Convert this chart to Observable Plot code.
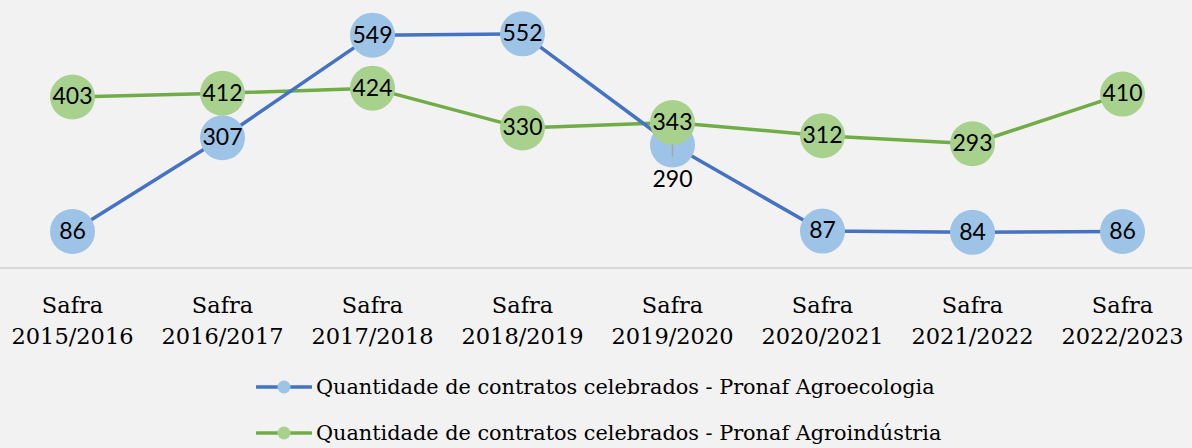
<!DOCTYPE html>
<html>
<head>
<meta charset="utf-8">
<script src="https://cdn.jsdelivr.net/npm/d3@7"></script>
<script src="https://cdn.jsdelivr.net/npm/@observablehq/plot@0.6"></script>
<style>
  html, body { margin: 0; padding: 0; background: #f2f2f2; }
  #wrap { position: relative; width: 1192px; height: 448px; overflow: hidden; background: #f2f2f2; }
  #chart { position: absolute; left: 0; top: 0; }
  .legend { position: absolute; left: 256px; font-family: "DejaVu Serif", serif; font-size: 20.8px; color: #000; display: flex; align-items: center; white-space: nowrap; }
  .legend svg { margin-right: 4px; }
</style>
</head>
<body>
<div id="wrap">
  <div id="chart"></div>
  <div class="legend" id="leg1" style="top:375px;"></div>
  <div class="legend" id="leg2" style="top:421px;"></div>
</div>
<script>
const safras = ["2015/2016","2016/2017","2017/2018","2018/2019","2019/2020","2020/2021","2021/2022","2022/2023"];
const agroecologia = [86, 307, 549, 552, 290, 87, 84, 86];
const agroindustria = [403, 412, 424, 330, 343, 312, 293, 410];
const seriesNames = [
  "Quantidade de contratos celebrados - Pronaf Agroecologia",
  "Quantidade de contratos celebrados - Pronaf Agroindústria"
];
const lineColors = ["#4472c4", "#70ad47"];
const dotColors = ["#9dc3e6", "#a9d18e"];

const eco = safras.map((s, i) => ({safra: s, value: agroecologia[i]}));
const ind = safras.map((s, i) => ({safra: s, value: agroindustria[i]}));
// label placed below the marker for the overlapping point
const ecoIn = eco.filter(d => d.safra !== "2019/2020");
const ecoOut = eco.filter(d => d.safra === "2019/2020");

const H = 360;
const plot = Plot.plot({
  width: 1192,
  height: H,
  marginTop: 13,
  marginBottom: H - 267.5,
  marginLeft: 72,
  marginRight: 70,
  style: {background: "transparent", overflow: "visible"},
  x: {type: "point", domain: safras, padding: 0},
  y: {domain: [0, 600], axis: null},
  marks: [
    Plot.ruleY([0], {stroke: "#d9d9d9", strokeWidth: 2, insetLeft: -80, insetRight: -80}),
    Plot.axisX({
      tickSize: 0, tickPadding: 22.5, fontSize: 22.5, lineHeight: 1.38,
      fontFamily: "DejaVu Serif", fill: "#000",
      tickFormat: d => "Safra\n" + d, label: null
    }),
    Plot.line(ind, {x: "safra", y: "value", stroke: lineColors[1], strokeWidth: 3.5}),
    Plot.line(eco, {x: "safra", y: "value", stroke: lineColors[0], strokeWidth: 3.5}),
    Plot.dot(eco, {x: "safra", y: "value", r: 22.5, fill: dotColors[0]}),
    Plot.dot(ind, {x: "safra", y: "value", r: 22.5, fill: dotColors[1]}),
    Plot.ruleX(ecoOut, {x: "safra", y1: "value", y2: "value", insetTop: 0, insetBottom: -12, stroke: "#a6a6a6", strokeWidth: 1.5}),
    Plot.text(ecoIn, {x: "safra", y: "value", text: d => String(d.value), fontSize: 23, fontFamily: "Lato", fill: "#000"}),
    Plot.text(ecoOut, {x: "safra", y: "value", text: d => String(d.value), dy: 35, fontSize: 23, fontFamily: "Lato", fill: "#000"}),
    Plot.text(ind, {x: "safra", y: "value", text: d => String(d.value), fontSize: 23, fontFamily: "Lato", fill: "#000"})
  ]
});
document.getElementById("chart").appendChild(plot);

function legendItem(el, i) {
  const ns = "http://www.w3.org/2000/svg";
  const svg = document.createElementNS(ns, "svg");
  svg.setAttribute("width", 56); svg.setAttribute("height", 16);
  const ln = document.createElementNS(ns, "line");
  ln.setAttribute("x1", 1); ln.setAttribute("x2", 55); ln.setAttribute("y1", 8); ln.setAttribute("y2", 8);
  ln.setAttribute("stroke", lineColors[i]); ln.setAttribute("stroke-width", 3.5); ln.setAttribute("stroke-linecap", "round");
  const c = document.createElementNS(ns, "circle");
  c.setAttribute("cx", 28); c.setAttribute("cy", 8); c.setAttribute("r", 6.5); c.setAttribute("fill", dotColors[i]);
  svg.appendChild(ln); svg.appendChild(c);
  el.appendChild(svg);
  const sp = document.createElement("span");
  sp.textContent = seriesNames[i];
  el.appendChild(sp);
}
legendItem(document.getElementById("leg1"), 0);
legendItem(document.getElementById("leg2"), 1);
</script>
</body>
</html>
